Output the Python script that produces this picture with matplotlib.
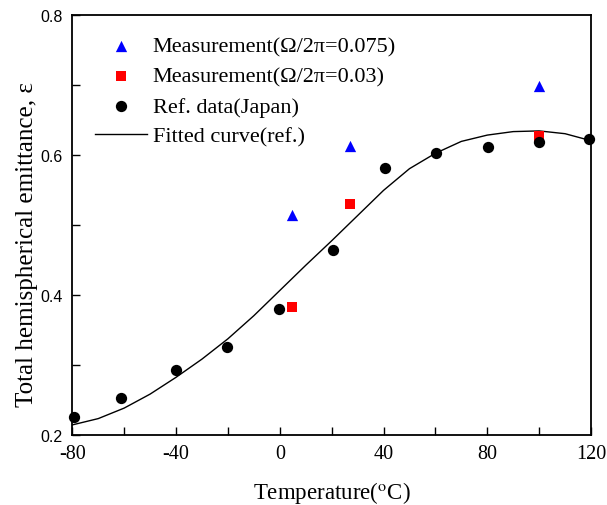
import matplotlib
matplotlib.use("Agg")
import matplotlib.pyplot as plt
from matplotlib.ticker import MultipleLocator

plt.rcParams["font.family"] = ["Liberation Serif", "DejaVu Serif"]
plt.rcParams["mathtext.fontset"] = "stix"

# Ref. data (Japan)
ref_t = [-79.3, -61.3, -40.0, -20.2, -0.2, 20.6, 40.7, 60.4, 80.4, 99.9, 119.4]
ref_eps = [0.226, 0.252, 0.293, 0.326, 0.380, 0.464, 0.581, 0.602, 0.611, 0.618, 0.623]

# Measurement, Omega/2pi = 0.075
m075_t = [4.8, 27.1, 99.9]
m075_eps = [0.514, 0.612, 0.698]

# Measurement, Omega/2pi = 0.03
m003_t = [4.8, 27.1, 99.9]
m003_eps = [0.382, 0.529, 0.627]

# Fitted curve
fit_t = [-80, -70, -60, -50, -40, -30, -20, -10, 0, 10, 20, 30, 40, 50, 60, 70, 80, 90, 100, 110, 120]
fit_eps = [0.214, 0.223, 0.238, 0.258, 0.282, 0.308, 0.337, 0.370, 0.406, 0.442, 0.477,
           0.513, 0.549, 0.580, 0.602, 0.619, 0.628, 0.633, 0.634, 0.630, 0.620]

x_ticks = [-80, -40, 0, 40, 80, 120]
x_labels = ["-80", "-40", "0", "40", "80", "120"]
y_ticks = [0.2, 0.4, 0.6, 0.8]
y_labels = ["0.2", "0.4", "0.6", "0.8"]

W, H = 607, 506
fig = plt.figure(figsize=(W / 100, H / 100), dpi=100)
ax = fig.add_axes([72.3 / W, 1 - 435.7 / H, (591 - 72.3) / W, (435.7 - 15.7) / H])

ax.scatter(m075_t, m075_eps, marker="^", s=66, color="#0000ff", linewidths=0,
           label="Measurement(\u03a9/2\u03c0=0.075)", zorder=3)
ax.scatter(m003_t, m003_eps, marker="s", s=48, color="#ff0000", linewidths=0,
           label="Measurement(\u03a9/2\u03c0=0.03)", zorder=3)
ax.scatter(ref_t, ref_eps, marker="o", s=66, color="black", linewidths=0,
           label="Ref. data(Japan)", zorder=3, clip_on=False)
ax.plot(fit_t, fit_eps, color="black", lw=1.0, label="Fitted curve(ref.)", zorder=2)

ax.set_xlim(-80, 120)
ax.set_ylim(0.2, 0.8)
ax.set_xticks(x_ticks, x_labels)
ax.set_yticks(y_ticks, y_labels)
ax.xaxis.set_minor_locator(MultipleLocator(20))
ax.yaxis.set_minor_locator(MultipleLocator(0.1))
ax.tick_params(which="both", direction="in", length=6, width=1.0, top=False, right=False)
ax.tick_params(axis="x", pad=7, labelsize=14.5)
ax.tick_params(axis="y", pad=7, labelsize=11.5)
for lab in ax.get_yticklabels():
    lab.set_family("Liberation Sans")
for sp in ax.spines.values():
    sp.set_linewidth(1.3)

fig.text(332 / W, 1 - 493 / H, "Temperature($^{\\rm o}$C)", ha="center", va="center", fontsize=16.5)
fig.text(27 / W, 1 - 245 / H, "Total hemispherical emittance, \u03b5", rotation=90,
         ha="center", va="center", fontsize=18)

ax.legend(loc="upper left", bbox_to_anchor=(95 / W, 1 - 37 / H), bbox_transform=fig.transFigure,
          frameon=False, fontsize=16, borderpad=0, borderaxespad=0, handlelength=2.35,
          handletextpad=0.25, labelspacing=0.43, scatterpoints=1)

fig.savefig("out.png", dpi=100)
